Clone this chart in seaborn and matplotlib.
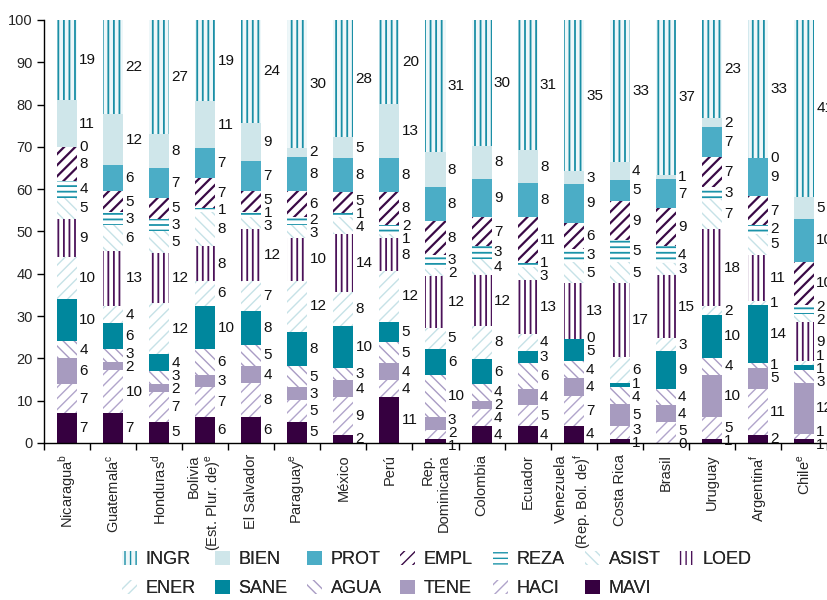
import numpy as np
import pandas as pd
import matplotlib
matplotlib.use("Agg")
import matplotlib.pyplot as plt
import matplotlib.patches as mpatches
from matplotlib.ticker import FixedLocator
import seaborn as sns

# ---------------- data ----------------
countries = ["Nicaragua", "Guatemala", "Honduras", "Bolivia", "El Salvador", "Paraguay",
             "México", "Perú", "Rep. Dominicana", "Colombia", "Ecuador", "Venezuela",
             "Costa Rica", "Brasil", "Uruguay", "Argentina", "Chile"]
tick_labels = ["Nicaragua$^{\\mathregular{b}}$", "Guatemala$^{\\mathregular{c}}$",
               "Honduras$^{\\mathregular{d}}$", "Bolivia\n(Est. Plur. de)$^{\\mathregular{e}}$",
               "El Salvador", "Paraguay$^{\\mathregular{e}}$", "México", "Perú",
               "Rep.\nDominicana", "Colombia", "Ecuador",
               "Venezuela\n(Rep. Bol. de)$^{\\mathregular{f}}$", "Costa Rica", "Brasil",
               "Uruguay", "Argentina$^{\\mathregular{f}}$", "Chile$^{\\mathregular{e}}$"]

MAVI = [7, 7, 5, 6, 6, 5, 2, 11, 1, 4, 4, 4, 1, 0, 1, 2, 1]
HACI = [7, 10, 7, 7, 8, 5, 9, 4, 2, 4, 5, 7, 3, 5, 5, 11, 1]
TENE = [6, 2, 2, 3, 4, 3, 4, 4, 3, 2, 4, 4, 5, 4, 10, 5, 12]
AGUA = [4, 3, 3, 6, 5, 5, 3, 5, 10, 4, 6, 4, 4, 4, 4, 1, 3]
SANE = [10, 6, 4, 10, 8, 8, 10, 5, 6, 6, 3, 5, 1, 9, 10, 14, 1]
ENER = [10, 4, 12, 6, 7, 12, 8, 12, 5, 8, 4, 0, 6, 3, 2, 1, 1]
LOED = [9, 13, 12, 8, 12, 10, 14, 8, 12, 12, 13, 13, 17, 15, 18, 11, 9]
ASIST = [5, 6, 5, 8, 3, 3, 4, 1, 2, 4, 3, 5, 5, 3, 7, 5, 2]
REZA = [4, 3, 3, 1, 1, 2, 1, 2, 3, 3, 1, 3, 5, 4, 3, 2, 2]
EMPL = [8, 5, 5, 7, 5, 6, 5, 8, 8, 7, 11, 6, 9, 9, 7, 7, 10]
PROT = [0, 6, 7, 7, 7, 8, 8, 8, 8, 9, 8, 9, 5, 7, 7, 9, 10]
BIEN = [11, 12, 8, 11, 9, 2, 5, 13, 8, 8, 8, 3, 4, 1, 2, 0, 5]
INGR = [19, 22, 27, 19, 24, 30, 28, 20, 31, 30, 31, 35, 33, 37, 23, 33, 41]

layer_names = ["MAVI", "HACI", "TENE", "AGUA", "SANE", "ENER", "LOED",
               "ASIST", "REZA", "EMPL", "PROT", "BIEN", "INGR"]
layer_vals = [MAVI, HACI, TENE, AGUA, SANE, ENER, LOED, ASIST, REZA, EMPL, PROT, BIEN, INGR]

legend_row1 = ["INGR", "BIEN", "PROT", "EMPL", "REZA", "ASIST", "LOED"]
legend_row2 = ["ENER", "SANE", "AGUA", "TENE", "HACI", "MAVI"]

# styles: facecolor, hatch, hatch colour, hatch linewidth
styles = {
    "MAVI": ("#360040", None, None, 1.0),
    "HACI": ("white", "///", "#b1a5cb", 1.0),
    "TENE": ("#a79bbf", None, None, 1.0),
    "AGUA": ("white", "\\\\\\", "#a99cc4", 1.0),
    "SANE": ("#00879d", None, None, 1.0),
    "ENER": ("white", "///", "#c6e2e7", 1.0),
    "LOED": ("white", "|||", "#4b1259", 1.3),
    "ASIST": ("white", "\\\\\\", "#c6e2e7", 1.0),
    "REZA": ("white", "---", "#1b93a9", 1.3),
    "EMPL": ("white", "///", "#3a0a46", 1.6),
    "PROT": ("#4badc6", None, None, 1.0),
    "BIEN": ("#cfe6ea", None, None, 1.0),
    "INGR": ("#eef7f9", "|||", "#1a8fa6", 1.3),
}

# ---------------- setup ----------------
sns.set_theme(style="ticks")
plt.rcParams["font.family"] = ["Liberation Sans", "DejaVu Sans"]
plt.rcParams["mathtext.fontset"] = "custom"
plt.rcParams["mathtext.rm"] = "Liberation Sans"
plt.rcParams["hatch.linewidth"] = 1.0

fig = plt.figure(figsize=(8.28, 6.0), dpi=100)
ax = fig.add_axes([44 / 828, 1 - 443 / 600, (827 - 44) / 828, (443 - 20) / 600])

vals = np.array(layer_vals, dtype=float)          # (13, 17)
totals = vals.sum(axis=0)
norm = vals / totals * 100.0
cum = np.cumsum(norm, axis=0)
bottoms = cum - norm

bar_w = 0.435

# draw cumulative bars from top layer down so each lower layer overlays
for li in range(len(layer_names) - 1, -1, -1):
    name = layer_names[li]
    fc, hatch, hc, hlw = styles[name]
    df = pd.DataFrame({"country": countries, "cum": cum[li]})
    with plt.rc_context({"hatch.linewidth": hlw}):
        sns.barplot(data=df, x="country", y="cum", order=countries, color=fc,
                    saturation=1, width=bar_w, errorbar=None, linewidth=0, ax=ax)
    cont = ax.containers[-1]
    for p in cont.patches:
        p.set_facecolor(fc)
        p.set_linewidth(0)
        if hatch:
            p.set_hatch(hatch)
            p.set_edgecolor(hc)
            if hasattr(p, "set_hatch_linewidth"):
                p.set_hatch_linewidth(hlw)
        else:
            p.set_edgecolor(fc)


# ---------------- value labels with simple de-overlap ----------------
def spread(desired, gap):
    z = [d - i * gap for i, d in enumerate(desired)]
    blocks = []  # [value, weight]
    for v in z:
        blocks.append([v, 1])
        while len(blocks) > 1 and blocks[-2][0] > blocks[-1][0]:
            v2, w2 = blocks.pop()
            v1, w1 = blocks.pop()
            blocks.append([(v1 * w1 + v2 * w2) / (w1 + w2), w1 + w2])
    out = []
    for v, w in blocks:
        out.extend([v] * w)
    return [o + i * gap for i, o in enumerate(out)]


gap = 3.1
for ci in range(len(countries)):
    centers = [bottoms[li, ci] + norm[li, ci] / 2 for li in range(len(layer_names))]
    ys = spread(centers, gap)
    for li in range(len(layer_names)):
        ax.text(ci + bar_w / 2 + 0.05, ys[li], f"{int(layer_vals[li][ci])}",
                ha="left", va="center", fontsize=11, color="#111111",
                family=["Liberation Sans Narrow", "Liberation Sans", "DejaVu Sans"])

# ---------------- axes styling ----------------
ax.set_xlim(-0.5, len(countries) - 0.5)
ax.set_ylim(0, 100)
ax.set_yticks(range(0, 101, 10))
ax.set_xlabel("")
ax.set_ylabel("")
ax.xaxis.set_major_locator(FixedLocator(range(len(countries))))
ax.set_xticklabels(tick_labels, rotation=90, ha="center", va="top",
                   multialignment="right", fontsize=10.5)
ax.xaxis.set_minor_locator(FixedLocator(np.arange(-0.5, len(countries), 1.0)))
ax.tick_params(axis="x", which="major", length=0, pad=8)
ax.tick_params(axis="x", which="minor", length=5, width=1, color="black", direction="out")
ax.tick_params(axis="y", length=5, width=1, color="black", direction="out",
               labelsize=10.5, pad=3)
for s in ["top", "right"]:
    ax.spines[s].set_visible(False)
for s in ["left", "bottom"]:
    ax.spines[s].set_color("black")
    ax.spines[s].set_linewidth(1)
ax.grid(False)


# ---------------- legend (uniform columns) ----------------
def make_handle(name):
    fc, hatch, hc, hlw = styles[name]
    if hatch:
        h = mpatches.Patch(facecolor=fc, edgecolor=hc, hatch=hatch, linewidth=0)
    else:
        h = mpatches.Patch(facecolor=fc, edgecolor=fc, linewidth=0)
    return h


col_x = [122, 215, 307, 400, 493, 585, 679]
for i, x in enumerate(col_x):
    names = [legend_row1[i]] + ([legend_row2[i]] if i < len(legend_row2) else [])
    handles = [make_handle(n) for n in names]
    leg = fig.legend(handles, names, loc="upper left",
                     bbox_to_anchor=(x / 828, 1 - 551 / 600),
                     bbox_transform=fig.transFigure, frameon=False,
                     borderpad=0, borderaxespad=0, handlelength=0.85,
                     handleheight=0.85, handletextpad=0.45, labelspacing=0.62,
                     fontsize=13)
    fig.add_artist(leg)

fig.savefig("out.png", dpi=100)
